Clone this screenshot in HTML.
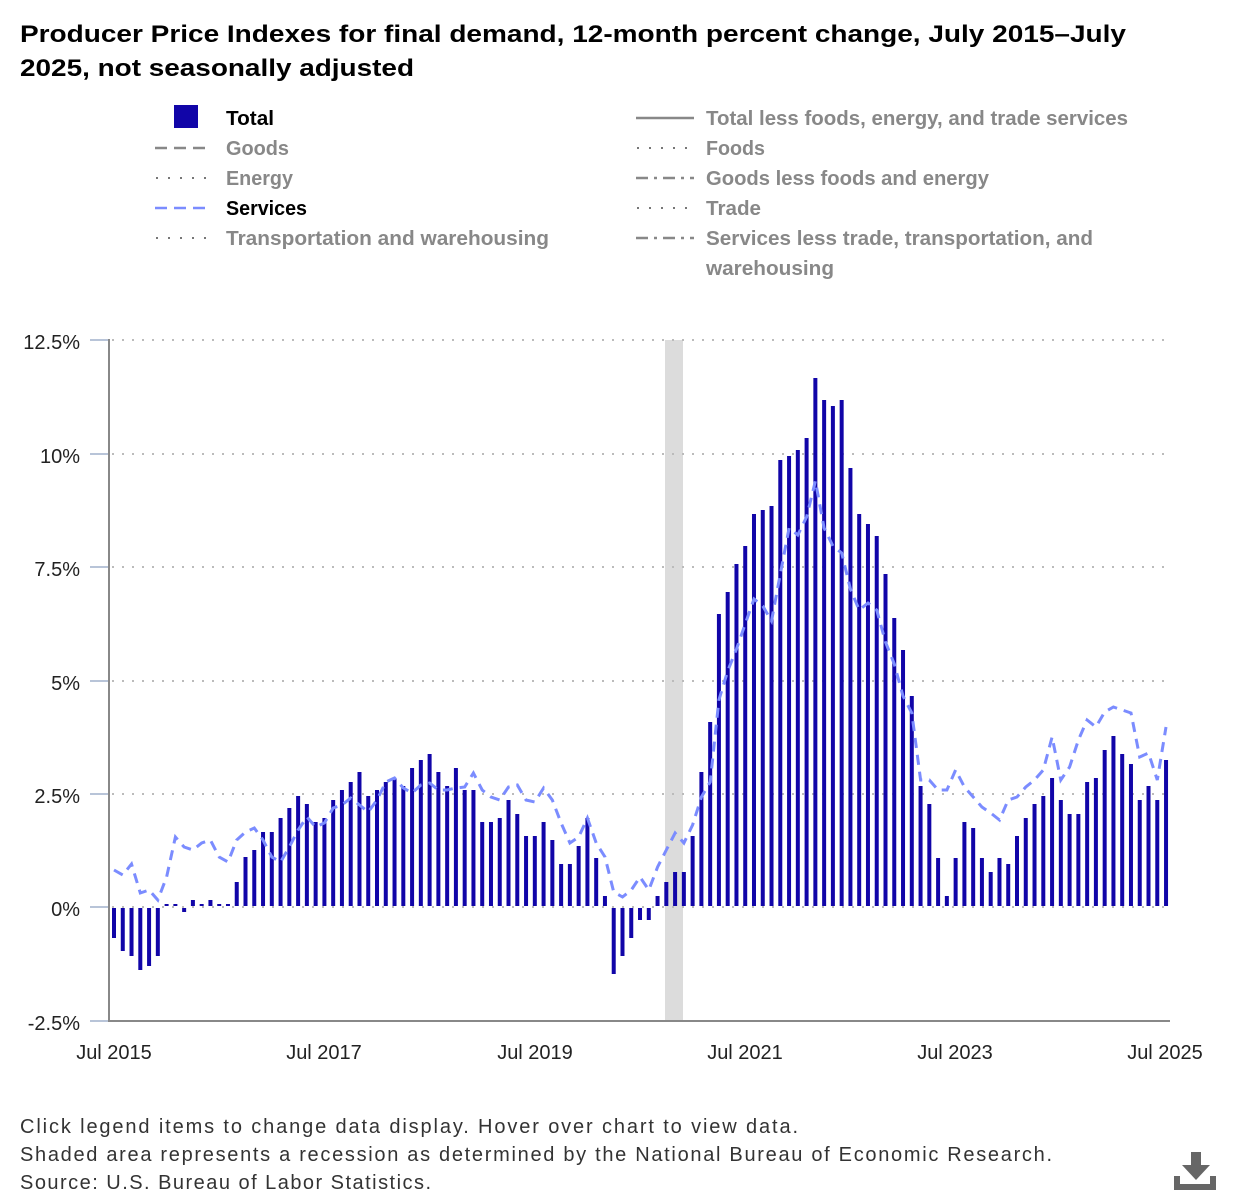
<!DOCTYPE html>
<html><head><meta charset="utf-8"><style>
html,body{margin:0;padding:0;background:#fff;}
svg{display:block;font-family:"Liberation Sans",sans-serif;}
</style></head><body>
<svg id="s" width="1240" height="1200" viewBox="0 0 1240 1200" xmlns="http://www.w3.org/2000/svg">
<text x="20" y="42" font-size="24" font-weight="bold" fill="#000" textLength="1106" lengthAdjust="spacingAndGlyphs">Producer Price Indexes for final demand, 12-month percent change, July 2015–July</text>
<text x="20" y="76" font-size="24" font-weight="bold" fill="#000" textLength="394" lengthAdjust="spacingAndGlyphs">2025, not seasonally adjusted</text>

<g font-size="20" font-weight="bold">
<rect x="174" y="105" width="24" height="23" fill="#1105a8"/>
<text x="226" y="125" fill="#000" textLength="48" lengthAdjust="spacingAndGlyphs">Total</text>
<line x1="155" y1="148" x2="210" y2="148" stroke="#888" stroke-width="2.5" stroke-dasharray="12,7"/>
<text x="226" y="155" fill="#888" textLength="63" lengthAdjust="spacingAndGlyphs">Goods</text>
<line x1="156" y1="178" x2="210" y2="178" stroke="#777" stroke-width="2" stroke-dasharray="2,10"/>
<text x="226" y="185" fill="#888" textLength="67" lengthAdjust="spacingAndGlyphs">Energy</text>
<line x1="155" y1="208" x2="210" y2="208" stroke="#7b8cff" stroke-width="2.5" stroke-dasharray="12,7"/>
<text x="226" y="215" fill="#000" textLength="81" lengthAdjust="spacingAndGlyphs">Services</text>
<line x1="156" y1="238" x2="210" y2="238" stroke="#777" stroke-width="2" stroke-dasharray="2,10"/>
<text x="226" y="245" fill="#888" textLength="323" lengthAdjust="spacingAndGlyphs">Transportation and warehousing</text>

<line x1="636" y1="118" x2="694" y2="118" stroke="#888" stroke-width="2.5"/>
<text x="706" y="125" fill="#888" textLength="422" lengthAdjust="spacingAndGlyphs">Total less foods, energy, and trade services</text>
<line x1="637" y1="148" x2="694" y2="148" stroke="#777" stroke-width="2" stroke-dasharray="2,10"/>
<text x="706" y="155" fill="#888" textLength="59" lengthAdjust="spacingAndGlyphs">Foods</text>
<line x1="636" y1="178" x2="694" y2="178" stroke="#888" stroke-width="2.5" stroke-dasharray="12,6,3,6"/>
<text x="706" y="185" fill="#888" textLength="283" lengthAdjust="spacingAndGlyphs">Goods less foods and energy</text>
<line x1="637" y1="208" x2="694" y2="208" stroke="#777" stroke-width="2" stroke-dasharray="2,10"/>
<text x="706" y="215" fill="#888" textLength="55" lengthAdjust="spacingAndGlyphs">Trade</text>
<line x1="636" y1="238" x2="694" y2="238" stroke="#888" stroke-width="2.5" stroke-dasharray="12,6,3,6"/>
<text x="706" y="245" fill="#888" textLength="387" lengthAdjust="spacingAndGlyphs">Services less trade, transportation, and</text>
<text x="706" y="275" fill="#888" textLength="128" lengthAdjust="spacingAndGlyphs">warehousing</text>
</g>

<rect x="665" y="340" width="18" height="681" fill="#dcdcdc"/>
<g stroke="#bbb" stroke-width="2" stroke-dasharray="2,8">
<line x1="112" y1="340" x2="1170" y2="340"/>
<line x1="112" y1="454" x2="1170" y2="454"/>
<line x1="112" y1="567" x2="1170" y2="567"/>
<line x1="112" y1="681" x2="1170" y2="681"/>
<line x1="112" y1="794" x2="1170" y2="794"/>
<line x1="112" y1="907" x2="1170" y2="907"/>
</g>
<g stroke="#b8c4d8" stroke-width="2">
<line x1="90" y1="340" x2="109" y2="340"/>
<line x1="90" y1="454" x2="109" y2="454"/>
<line x1="90" y1="567" x2="109" y2="567"/>
<line x1="90" y1="681" x2="109" y2="681"/>
<line x1="90" y1="794" x2="109" y2="794"/>
<line x1="90" y1="907" x2="109" y2="907"/>
<line x1="90" y1="1021" x2="109" y2="1021"/>
</g>
<g id="bars" fill="#1105a8"></g>
<polyline id="svc" fill="none" stroke="#7b8cff" stroke-width="3" stroke-dasharray="10,7" points=""/>
<line x1="109" y1="339" x2="109" y2="1022" stroke="#888" stroke-width="2"/>
<line x1="108" y1="1021" x2="1170" y2="1021" stroke="#888" stroke-width="2"/>

<g font-size="20" fill="#222" text-anchor="end">
<text x="80" y="349">12.5%</text>
<text x="80" y="463">10%</text>
<text x="80" y="576">7.5%</text>
<text x="80" y="690">5%</text>
<text x="80" y="803">2.5%</text>
<text x="80" y="916">0%</text>
<text x="80" y="1030">-2.5%</text>
</g>
<g font-size="20" fill="#222" text-anchor="middle">
<text x="114" y="1059">Jul 2015</text>
<text x="324" y="1059">Jul 2017</text>
<text x="535" y="1059">Jul 2019</text>
<text x="745" y="1059">Jul 2021</text>
<text x="955" y="1059">Jul 2023</text>
<text x="1165" y="1059">Jul 2025</text>
</g>

<g font-size="20" fill="#333">
<text x="20" y="1133" textLength="778" lengthAdjust="spacing">Click legend items to change data display. Hover over chart to view data.</text>
<text x="20" y="1161" textLength="1032" lengthAdjust="spacing">Shaded area represents a recession as determined by the National Bureau of Economic Research.</text>
<text x="20" y="1189" textLength="411" lengthAdjust="spacing">Source: U.S. Bureau of Labor Statistics.</text>
</g>
<g fill="#666">
<rect x="1191" y="1152" width="10" height="14"/>
<polygon points="1182,1165 1210,1165 1196,1180"/>
<rect x="1174" y="1184" width="42" height="6"/>
<rect x="1174" y="1176" width="6" height="12"/>
<rect x="1210" y="1176" width="6" height="12"/>
</g>
</svg>
<script>
var b=[938,951,956,970,966,956,904,904,912,900,904,900,904,904,882,857,850,832,832,818,808,796,804,822,818,800,790,782,772,796,790,782,778,786,768,760,754,772,786,768,790,790,822,822,818,800,814,836,836,822,840,864,864,846,818,858,896,974,956,938,920,920,896,882,872,872,836,772,722,614,592,564,546,514,510,506,460,456,450,438,378,400,406,400,468,514,524,536,574,618,650,696,786,804,858,896,858,822,828,858,872,858,864,836,818,804,796,778,800,814,814,782,778,750,736,754,764,800,786,800,760];
var s=[870,875,864,893,890,900,877,837,847,850,843,840,857,862,840,832,828,840,857,862,847,830,817,827,823,808,805,798,805,812,800,782,778,788,793,785,783,790,790,788,787,773,790,797,800,787,785,800,802,788,800,823,843,837,818,843,857,892,897,890,877,890,867,850,833,843,825,797,782,700,671,649,624,599,606,621,574,528,535,517,481,528,546,553,589,610,603,610,642,664,696,713,780,780,790,790,770,787,797,807,813,820,800,797,787,780,770,737,780,767,740,720,727,712,707,710,713,757,753,780,727];
var ns="http://www.w3.org/2000/svg",g=document.getElementById("bars"),z=907,pts=[];
for(var i=0;i<121;i++){var x=114+i*8.767;var r=document.createElementNS(ns,"rect");
var y=b[i],h;if(y<z-1){r.setAttribute("y",y);h=z-1-y;}else if(y>z+1){r.setAttribute("y",z+1);h=y-z-1;}else{r.setAttribute("y",z-2);h=2;r.setAttribute("fill","#111");}
r.setAttribute("x",(x-2).toFixed(2));r.setAttribute("width",4);r.setAttribute("height",h);g.appendChild(r);
pts.push(x.toFixed(1)+","+s[i]);}
document.getElementById("svc").setAttribute("points",pts.join(" "));
</script>
</body></html>
